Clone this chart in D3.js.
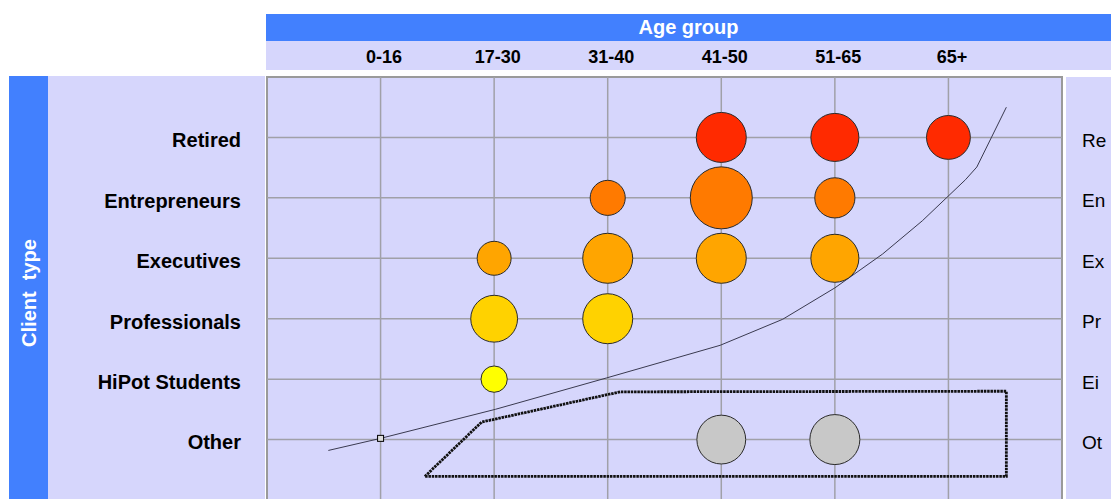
<!DOCTYPE html>
<html>
<head>
<meta charset="utf-8">
<script src="https://cdn.jsdelivr.net/npm/d3@7"></script>
<style>
  html, body { margin: 0; padding: 0; background: #fff; }
  svg { display: block; font-family: "Liberation Sans", Arial, sans-serif; }
</style>
</head>
<body>
<svg id="chart" width="1111" height="499"></svg>
<script>
// Categories
const ageGroups = ["0-16", "17-30", "31-40", "41-50", "51-65", "65+"];
const clientTypes = ["Retired", "Entrepreneurs", "Executives", "Professionals", "HiPot Students", "Other"];
const clientCodes = ["Re", "En", "Ex", "Pr", "Ei", "Ot"];
const typeColors = ["#ff2a00", "#ff7a00", "#ffa500", "#ffd200", "#ffff00", "#c8c8c8"];

// Bubble values per client type (aligned with ageGroups, null = no bubble)
const retired       = [null, null, null, 65, 60, 50];
const entrepreneurs = [null, null, 32, 100, 42, null];
const executives    = [null, 30, 65, 65, 60, null];
const professionals = [null, 57, 65, null, null, null];
const hipot         = [null, 18, null, null, null, null];
const other         = [null, null, null, 62, 65, null];
const seriesValues = [retired, entrepreneurs, executives, professionals, hipot, other];

// Trend curve (age index, client-type index)
const trendX = [-0.46, 0.0, 1.01, 1.99, 2.99, 3.54, 4.0, 4.42, 4.77, 5.15, 5.25, 5.51];
const trendY = [5.18, 4.98, 4.50, 3.98, 3.44, 3.01, 2.49, 1.93, 1.38, 0.70, 0.49, -0.50];

// Highlighted region outline (age index, client-type index)
const regionX = [0.39, 0.89, 2.11, 5.51, 5.51, 0.39];
const regionY = [5.61, 4.71, 4.21, 4.20, 5.61, 5.61];

const svg = d3.select("#chart");
const W = 1111, H = 499;
const lav = "#d6d6fc";
const blue = "#4280fe";
const FONT = "Liberation Sans, Arial, sans-serif";

const plot = { left: 267, right: 1062, top: 77, bottom: 500 };

const x = d3.scaleLinear().domain([-1, ageGroups.length]).range([plot.left, plot.right]);
const y = d3.scaleLinear().domain([-1, clientTypes.length]).range([plot.top, plot.bottom]);
const maxVal = d3.max(seriesValues.flat());
const r = d3.scaleSqrt().domain([0, maxVal]).range([0, 31]);

// Header bands
svg.append("rect").attr("x", 266).attr("y", 14).attr("width", W - 266).attr("height", 27).attr("fill", blue);
svg.append("rect").attr("x", 266).attr("y", 41).attr("width", W - 266).attr("height", 29).attr("fill", lav);
svg.append("text").attr("x", (266 + W) / 2).attr("y", 34)
  .attr("text-anchor", "middle").attr("fill", "#fff")
  .attr("font-weight", "bold").attr("font-size", 20).text("Age group");

// Side panels
svg.append("rect").attr("x", 9).attr("y", 76).attr("width", 39).attr("height", H - 76).attr("fill", blue);
svg.append("rect").attr("x", 48).attr("y", 76).attr("width", 217).attr("height", H - 76).attr("fill", lav);
svg.append("rect").attr("x", 1066).attr("y", 77).attr("width", W - 1066).attr("height", H - 77).attr("fill", lav);
svg.append("text")
  .attr("transform", "translate(36,293) rotate(-90)")
  .attr("text-anchor", "middle").attr("fill", "#fff")
  .attr("font-weight", "bold").attr("font-size", 20)
  .style("white-space", "pre").text("Client  type");

// Plot background
svg.append("rect").attr("x", plot.left).attr("y", plot.top)
  .attr("width", plot.right - plot.left).attr("height", plot.bottom - plot.top)
  .attr("fill", lav).attr("stroke", "#9a9a9a").attr("stroke-width", 2);

// Top axis (age groups)
const xAxis = d3.axisTop(x).tickValues(d3.range(ageGroups.length))
  .tickFormat(i => ageGroups[i]).tickSize(0).tickPadding(0);
const gx = svg.append("g").attr("transform", "translate(3,63)").call(xAxis);
gx.select(".domain").remove();
gx.selectAll("text").attr("font-size", 18).attr("font-weight", "bold")
  .attr("fill", "#000").attr("font-family", FONT).attr("dy", 0);

// Left axis (client types)
const yAxis = d3.axisLeft(y).tickValues(d3.range(clientTypes.length))
  .tickFormat(i => clientTypes[i]).tickSize(0).tickPadding(0);
const gy = svg.append("g").attr("transform", "translate(241,3)").call(yAxis);
gy.select(".domain").remove();
gy.selectAll("text").attr("font-size", 20).attr("font-weight", "bold")
  .attr("fill", "#000").attr("font-family", FONT);

// Right axis (client codes)
const yAxisR = d3.axisRight(y).tickValues(d3.range(clientCodes.length))
  .tickFormat(i => clientCodes[i]).tickSize(0).tickPadding(0);
const gyr = svg.append("g").attr("transform", "translate(1082,3)").call(yAxisR);
gyr.select(".domain").remove();
gyr.selectAll("text").attr("font-size", 19)
  .attr("fill", "#000").attr("font-family", FONT);

// Grid lines
const grid = svg.append("g").attr("stroke", "#a0a0a8").attr("stroke-width", 1.5);
grid.selectAll("line.v").data(d3.range(ageGroups.length)).join("line")
  .attr("x1", d => x(d)).attr("x2", d => x(d))
  .attr("y1", plot.top).attr("y2", H);
grid.selectAll("line.h").data(d3.range(clientTypes.length)).join("line")
  .attr("class", "h")
  .attr("x1", plot.left).attr("x2", plot.right)
  .attr("y1", d => y(d)).attr("y2", d => y(d));

// Trend curve
const trend = d3.zip(trendX, trendY);
svg.append("path")
  .attr("d", d3.line().x(d => x(d[0])).y(d => y(d[1]))(trend))
  .attr("fill", "none").attr("stroke", "#3a3a50").attr("stroke-width", 1);
svg.append("rect")
  .attr("x", x(trendX[1]) - 3).attr("y", y(trendY[1]) - 3)
  .attr("width", 6).attr("height", 6)
  .attr("fill", "#ddd").attr("stroke", "#000").attr("stroke-width", 1);

// Highlighted region outline
const region = d3.zip(regionX, regionY);
svg.append("path")
  .attr("d", d3.line().x(d => x(d[0])).y(d => y(d[1]))(region))
  .attr("fill", "none").attr("stroke", "#111").attr("stroke-width", 2.8)
  .attr("stroke-dasharray", "2.5,0.8");

// Bubbles
const bubbles = [];
seriesValues.forEach((vals, row) => {
  vals.forEach((v, col) => {
    if (v != null) bubbles.push({ row, col, v });
  });
});
svg.append("g").selectAll("circle").data(bubbles).join("circle")
  .attr("cx", d => x(d.col)).attr("cy", d => y(d.row))
  .attr("r", d => r(d.v))
  .attr("fill", d => typeColors[d.row])
  .attr("stroke", "#2a2a2a").attr("stroke-width", 1);
</script>
</body>
</html>
